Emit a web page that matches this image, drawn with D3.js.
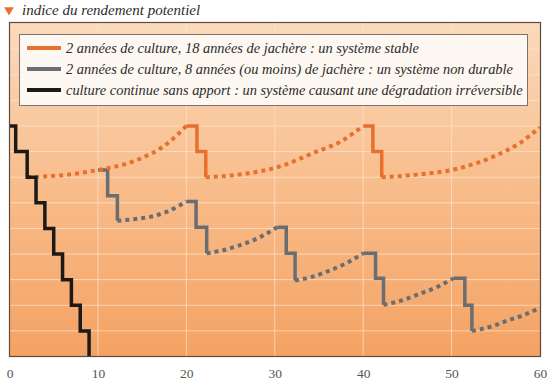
<!DOCTYPE html>
<html>
<head>
<meta charset="utf-8">
<script src="https://cdn.jsdelivr.net/npm/d3@7"></script>
<style>
  body { margin: 0; background: #fff; }
  .tick text { font-family: "Liberation Serif", "DejaVu Serif", "Times New Roman", serif; font-size: 13.5px; fill: #555; }
  .legend-text { font-family: "Liberation Serif", "DejaVu Serif", "Times New Roman", serif; font-style: italic; font-size: 14.4px; fill: #2b2b2b; }
  .header-text { font-family: "Liberation Serif", "DejaVu Serif", "Times New Roman", serif; font-style: italic; font-size: 15px; fill: #2b2b2b; }
</style>
</head>
<body>
<div class="chart"></div>
<script>
//Data
const xTicks = [0, 10, 20, 30, 40, 50, 60];
const yGrid = [1, 2, 3, 4, 5, 6, 7, 8, 9, 10, 11, 12];

const legendLabels = [
    '2 années de culture, 18 années de jachère : un système stable',
    '2 années de culture, 8 années (ou moins) de jachère : un système non durable',
    'culture continue sans apport : un système causant une dégradation irréversible'
];

// culture continue : [année, indice]
const blackSteps = [[0, 9], [0.7, 8], [2, 7], [3, 6], [4, 5], [5, 4], [6, 3], [7, 2], [8, 1], [9, 0]];

// 2 ans culture / 18 ans jachère
const orangeCulture = [
    [[20, 9], [21.2, 8], [22.2, 7]],
    [[40, 9], [41.1, 8], [42.1, 7]]
];
const orangeFallow = [
    [[2, 7], [6, 7.08], [10, 7.28], [14, 7.62], [17.8, 8.3], [20, 9]],
    [[22.2, 7], [27, 7.15], [30.4, 7.4], [34.4, 7.95], [37.5, 8.4], [40, 9]],
    [[42.1, 7], [46, 7.1], [50, 7.28], [54.7, 7.8], [57.7, 8.33], [60, 8.95]]
];

// 2 ans culture / 8 ans jachère
const grayCulture = [
    [[10, 7.28], [11.1, 6.28], [12.2, 5.3]],
    [[20, 6.05], [21.1, 5.05], [22.3, 4.03]],
    [[30.3, 5.05], [31.3, 4.03], [32.3, 2.97]],
    [[40, 4.03], [41.4, 3.05], [42.3, 2.02]],
    [[50.2, 3.05], [51.5, 2.0], [52.3, 1.0]]
];
const grayFallow = [
    [[12.2, 5.3], [14, 5.36], [15.9, 5.45], [18, 5.68], [20, 6.05]],
    [[22.3, 4.03], [24.2, 4.15], [26.1, 4.35], [28.4, 4.67], [30.3, 5.05]],
    [[32.3, 2.97], [34.3, 3.12], [36.3, 3.37], [38.2, 3.66], [40, 4.03]],
    [[42.3, 2.02], [44.3, 2.18], [46.4, 2.45], [48.4, 2.72], [50.2, 3.05]],
    [[52.3, 1.0], [54.3, 1.15], [56.3, 1.4], [58.2, 1.62], [60, 1.9]]
];

const colors = ['#e8702e', '#6a6d72', '#1c1a19'];

//Canvas
const svg_width = 552;
const svg_height = 384;
const frame = {left: 9.5, right: 540.5, top: 22.5, bottom: 356.5};

const svg = d3.select('.chart').append('svg')
    .attr('width', svg_width).attr('height', svg_height);

const xScale = d3.scaleLinear().domain([0, 60]).range([frame.left, frame.right - 0.5]);
const yScale = d3.scaleLinear().domain([0, 13]).range([frame.bottom, frame.top + 1]);

// fond dégradé
const grad = svg.append('defs').append('linearGradient')
    .attr('id', 'bg').attr('x1', 0).attr('y1', 0).attr('x2', 0).attr('y2', 1);
grad.append('stop').attr('offset', '0%').attr('stop-color', '#fbdabd');
grad.append('stop').attr('offset', '50%').attr('stop-color', '#f8bc8a');
grad.append('stop').attr('offset', '100%').attr('stop-color', '#f4a263');

svg.append('rect')
    .attr('x', frame.left).attr('y', frame.top)
    .attr('width', frame.right - frame.left).attr('height', frame.bottom - frame.top)
    .attr('fill', 'url(#bg)');

// grille
svg.append('g').selectAll('line').data(yGrid).join('line')
    .attr('x1', frame.left).attr('x2', frame.right)
    .attr('y1', d => yScale(d)).attr('y2', d => yScale(d))
    .attr('stroke', '#fde6d2').attr('stroke-opacity', 0.7).attr('stroke-width', 1);
svg.append('g').selectAll('line').data(xTicks.slice(1, -1)).join('line')
    .attr('x1', d => xScale(d)).attr('x2', d => xScale(d))
    .attr('y1', frame.top).attr('y2', frame.bottom)
    .attr('stroke', '#fde6d2').attr('stroke-opacity', 0.7).attr('stroke-width', 1);

//Lines
const stepLine = d3.line().x(d => xScale(d[0])).y(d => yScale(d[1])).curve(d3.curveStepAfter);
const curveLine = d3.line().x(d => xScale(d[0])).y(d => yScale(d[1])).curve(d3.curveMonotoneX);

function drawDotted(data, color){
    svg.append('g').selectAll('path').data(data).join('path')
        .attr('d', curveLine)
        .attr('fill', 'none').attr('stroke', color)
        .attr('stroke-width', 4).attr('stroke-dasharray', '4,4');
}
function drawSteps(data, color){
    svg.append('g').selectAll('path').data(data).join('path')
        .attr('d', stepLine)
        .attr('fill', 'none').attr('stroke', color)
        .attr('stroke-width', 3.5).attr('stroke-linejoin', 'miter');
}

drawDotted(grayFallow, colors[1]);
drawSteps(grayCulture, colors[1]);
drawDotted(orangeFallow, colors[0]);
drawSteps(orangeCulture, colors[0]);
drawSteps([blackSteps], colors[2]);

// cadre
svg.append('rect')
    .attr('x', frame.left).attr('y', frame.top)
    .attr('width', frame.right - frame.left).attr('height', frame.bottom - frame.top)
    .attr('fill', 'none').attr('stroke', '#5c4c40').attr('stroke-width', 1.2);

//Axis
const xAxis = d3.axisBottom(xScale).tickValues(xTicks).tickSize(0).tickPadding(12);
svg.append('g').attr('transform', `translate(0,${frame.bottom})`)
    .call(xAxis)
    .call(g => g.select('.domain').remove())
    .call(g => g.attr('font-family', null).attr('font-size', null));

//Legend
const legend = svg.append('g');
legend.append('rect')
    .attr('x', 19.5).attr('y', 34.5).attr('width', 508).attr('height', 71)
    .attr('fill', '#fdf8f1').attr('stroke', '#7d736c').attr('stroke-width', 1);
const rows = legend.selectAll('.row').data(legendLabels).join('g')
    .attr('class', 'row')
    .attr('transform', (d, i) => `translate(0,${48 + i * 21})`);
rows.append('line')
    .attr('x1', 27).attr('x2', 61).attr('y1', 0).attr('y2', 0)
    .attr('stroke', (d, i) => colors[i]).attr('stroke-width', 4);
rows.append('text').attr('class', 'legend-text')
    .attr('x', 66).attr('y', 5).text(d => d);

//Header
svg.append('path')
    .attr('d', d3.symbol(d3.symbolTriangle, 40)())
    .attr('transform', 'translate(9,10) rotate(180)')
    .attr('fill', '#e8702e');
svg.append('text').attr('class', 'header-text')
    .attr('x', 22).attr('y', 15)
    .text('indice du rendement potentiel');
</script>
</body>
</html>
